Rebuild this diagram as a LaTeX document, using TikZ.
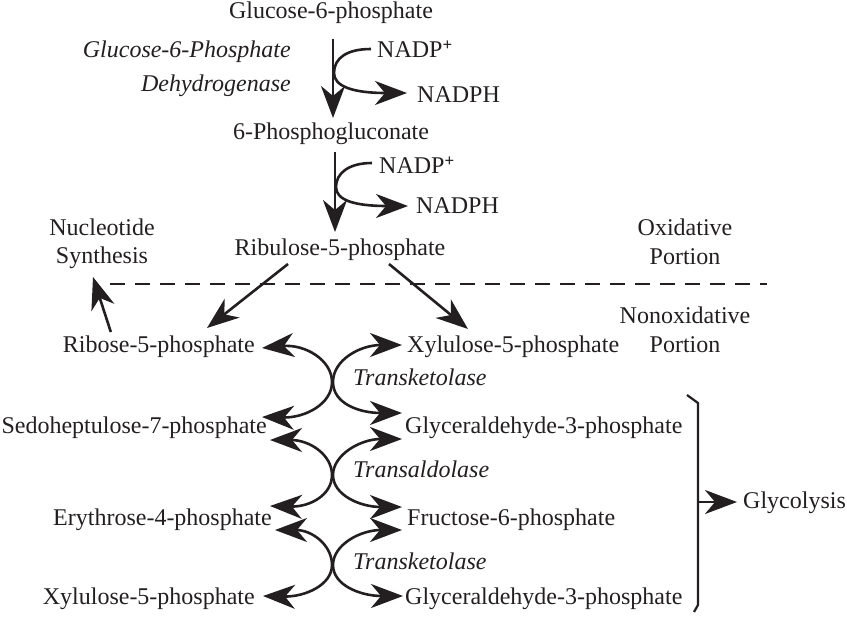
\documentclass[tikz,border=0pt]{standalone}
\usepackage{fontspec}
\setmainfont{Liberation Serif}
\usetikzlibrary{arrows.meta,calc}
\definecolor{ink}{RGB}{35,31,32}
\newcommand{\plussup}{\raisebox{0.62ex}{\fontsize{17}{17}\selectfont\textbf{+}}}
\begin{document}
\begin{tikzpicture}[x=1pt,y=-1pt,
  lbl/.style={inner sep=0pt, text=ink, font=\fontsize{24}{28}\selectfont},
  enz/.style={inner sep=0pt, text=ink, font=\fontsize{24}{28}\selectfont\itshape},
  conn/.style={line width=2.6pt, draw=ink},
  tipend/.style={-{Stealth[length=32pt,width=24pt,inset=10pt]}},
  tipboth/.style={{Stealth[length=32pt,width=24pt,inset=10pt]}-{Stealth[length=32pt,width=24pt,inset=10pt]}},
  sep/.style={line width=2.4pt, draw=ink, dash pattern=on 15pt off 10pt}]
\path[use as bounding box] (0,0) rectangle (847,625);

% oxidative part
\node[lbl, anchor=base] (g6p) at (331,18) {Glucose-6-phosphate};
\node[enz, anchor=base east] (enzA) at (291,57) {Glucose-6-Phosphate};
\node[enz, anchor=base east] (enzB) at (291,91) {Dehydrogenase};
\node[lbl, anchor=base west] (nadpA) at (377,57) {NADP\plussup};
\node[lbl, anchor=base west] (nadphA) at (417,102) {NADPH};
\node[lbl, anchor=base] (pg) at (331,139) {6-Phosphogluconate};
\node[lbl, anchor=base west] (nadpB) at (379,173) {NADP\plussup};
\node[lbl, anchor=base west] (nadphB) at (416,213) {NADPH};
\node[lbl, anchor=base] (ru) at (340,255) {Ribulose-5-phosphate};

\node[lbl, anchor=base] (nucA) at (102,235) {Nucleotide};
\node[lbl, anchor=base] (nucB) at (102,263) {Synthesis};
\node[lbl, anchor=base] (oxA) at (685,235) {Oxidative};
\node[lbl, anchor=base] (oxB) at (685,264) {Portion};
\node[lbl, anchor=base] (noxA) at (685,323) {Nonoxidative};
\node[lbl, anchor=base] (noxB) at (685,352) {Portion};

% nonoxidative part
\node[lbl, anchor=base east] (rib) at (255,352) {Ribose-5-phosphate};
\node[lbl, anchor=base east] (sed) at (267,433) {Sedoheptulose-7-phosphate};
\node[lbl, anchor=base east] (ery) at (272,525) {Erythrose-4-phosphate};
\node[lbl, anchor=base east] (xylL) at (255,604) {Xylulose-5-phosphate};
\node[lbl, anchor=base west] (xylR) at (407,352) {Xylulose-5-phosphate};
\node[lbl, anchor=base west] (gapA) at (405,433) {Glyceraldehyde-3-phosphate};
\node[lbl, anchor=base west] (fru) at (407,525) {Fructose-6-phosphate};
\node[lbl, anchor=base west] (gapB) at (405,604) {Glyceraldehyde-3-phosphate};
\node[enz, anchor=base west] (tkA) at (353,385) {Transketolase};
\node[enz, anchor=base west] (ta) at (353,477) {Transaldolase};
\node[enz, anchor=base west] (tkB) at (353,569) {Transketolase};
\node[lbl, anchor=base west] (gly) at (743,508) {Glycolysis};

% first oxidation step
\draw[conn, tipend] ($(g6p.base)+(2,21)$) -- ($(pg.base)+(2,-21)$);
\draw[conn, tipend] ($(nadpA.base west)+(-6,-8)$) .. controls (347,49) and (334,58) .. (334,73)
  .. controls (334,86) and (352,93) .. ($(nadphA.base west)+(-10,-9)$);
% second oxidation step
\draw[conn, tipend] ($(pg.base)+(4,13)$) -- ($(ru.base)+(-5,-23)$);
\draw[conn, tipend] ($(nadpB.base west)+(-7,-10)$) .. controls (349,163) and (336,173) .. (336,187)
  .. controls (336,200) and (354,206) .. ($(nadphB.base west)+(-8,-7)$);

% separator
\draw[sep] (110,284) -- (767,284);

% branches from ribulose-5-phosphate
\draw[conn, tipend] ($(ru.base)+(-52,9)$) -- ($(rib.base east)+(-48,-24)$);
\draw[conn, tipend] ($(ru.base)+(49,9)$) -- ($(xylR.base west)+(61,-23)$);
\draw[conn, tipend] ($(rib.base)+(-48,-20)$) -- ($(nucB.base)+(-9,14)$);

% transketolase (1)
\draw[conn, tipboth] ($(rib.base east)+(7,-4)$) .. controls (305,344) and (332,360) .. (332,382)
  .. controls (332,404) and (305,418) .. ($(sed.base east)+(-5,-16)$);
\draw[conn, tipboth] ($(xylR.base west)+(-5,-7)$) .. controls (360,345) and (333,360) .. (333,382)
  .. controls (333,404) and (360,413) .. ($(gapA.base west)+(-3,-20)$);
% transaldolase
\draw[conn, tipboth] ($(sed.base east)+(3,7)$) .. controls (310,440) and (332,455) .. (332,475)
  .. controls (332,495) and (310,507) .. ($(ery.base east)+(-2,-19)$);
\draw[conn, tipboth] ($(gapA.base west)+(-3,6)$) .. controls (360,439) and (333,455) .. (333,475)
  .. controls (333,495) and (360,507) .. ($(fru.base west)+(-5,-18)$);
% transketolase (2)
\draw[conn, tipboth] ($(ery.base east)+(3,5)$) .. controls (312,530) and (332,545) .. (332,565)
  .. controls (332,585) and (305,597) .. ($(xylL.base east)+(8,-8)$);
\draw[conn, tipboth] ($(fru.base west)+(-5,5)$) .. controls (360,530) and (333,545) .. (333,565)
  .. controls (333,585) and (360,596) .. ($(gapB.base west)+(-2,-8)$);

% bracket to glycolysis
\coordinate (brTop) at (687,395);
\coordinate (brBot) at (694,612);
\draw[line width=2.2pt, draw=ink] (brTop) -- (698,403) -- (698,605) -- (brBot);
\coordinate (brMid) at (698,502);
\draw[conn, tipend] (brMid) -- ($(gly.base west)+(-6,-6)$);
\end{tikzpicture}
\end{document}
